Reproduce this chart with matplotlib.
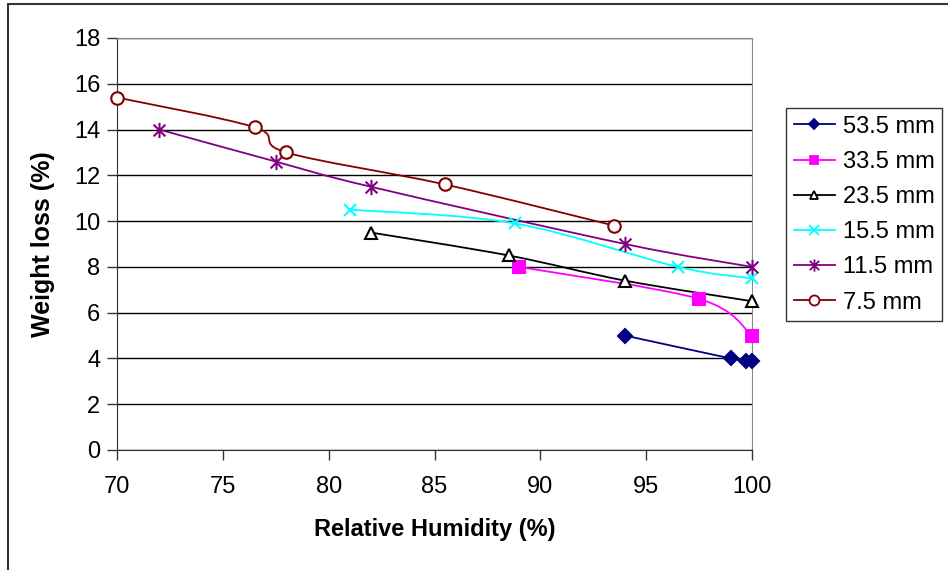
"""Weight loss vs relative humidity for several sample thicknesses"""

import matplotlib.pyplot as plt
from matplotlib.path import Path
from matplotlib.patches import PathPatch, Rectangle
from matplotlib.lines import Line2D
import numpy as np

plt.rcParams["font.family"] = ["Liberation Sans", "DejaVu Sans"]

# data
labels = ["53.5 mm", "33.5 mm", "23.5 mm", "15.5 mm", "11.5 mm", "7.5 mm"]
rh_535 = [94, 99, 99.7, 100]
wl_535 = [5.0, 4.0, 3.9, 3.9]
rh_335 = [89, 97.5, 100]
wl_335 = [8.0, 6.6, 5.0]
rh_235 = [82, 88.5, 94, 100]
wl_235 = [9.5, 8.5, 7.4, 6.5]
rh_155 = [81, 88.8, 96.5, 100]
wl_155 = [10.5, 9.9, 8.0, 7.5]
rh_115 = [72, 77.5, 82, 94, 100]
wl_115 = [14.0, 12.6, 11.5, 9.0, 8.0]
rh_75 = [70, 76.5, 78, 85.5, 93.5]
wl_75 = [15.4, 14.1, 13.0, 11.6, 9.8]

series_x = [rh_535, rh_335, rh_235, rh_155, rh_115, rh_75]
series_y = [wl_535, wl_335, wl_235, wl_155, wl_115, wl_75]

colors = ["#000080", "#FF00FF", "#000000", "#00FFFF", "#800080", "#800000"]

# excel style asterisk: an x plus a vertical bar
ast = Path(
    [(-1, -1), (1, 1), (-1, 1), (1, -1), (0, -1.3), (0, 1.3)],
    [Path.MOVETO, Path.LINETO, Path.MOVETO, Path.LINETO, Path.MOVETO, Path.LINETO],
)
markers = ["D", "s", "^", "x", ast, "o"]
msizes = [7, 8, 8, 9, 11, 9]
mfaces = ["#000080", "#FF00FF", "white", "#00FFFF", "#800080", "white"]


def smooth_path(xs, ys):
    """Bezier path through the points, like Excel's smoothed lines"""
    p = np.column_stack([xs, ys]).astype(float)
    n = len(p)
    verts = [p[0]]
    codes = [Path.MOVETO]
    for i in range(n - 1):
        p0 = p[i - 1] if i > 0 else p[i]
        p3 = p[i + 2] if i + 2 < n else p[i + 1]
        c1 = p[i] + (p[i + 1] - p0) / 6.0
        c2 = p[i + 1] - (p3 - p[i]) / 6.0
        verts += [c1, c2, p[i + 1]]
        codes += [Path.CURVE4] * 3
    return Path(verts, codes)


fig = plt.figure(figsize=(9.48, 5.7), dpi=100)
ax = fig.add_axes([117 / 948, 120 / 570, 635 / 948, 412 / 570])

for xs, ys, c, m, ms, mf in zip(series_x, series_y, colors, markers, msizes, mfaces):
    ax.add_patch(PathPatch(smooth_path(xs, ys), fill=False, edgecolor=c, lw=1.3, zorder=3))
    ax.plot(xs, ys, ls="none", marker=m, ms=ms, mfc=mf, mec=c, mew=1.5, zorder=4, clip_on=False)

ax.set_xlim(70, 100)
ax.set_ylim(0, 18)
ax.set_xticks(np.arange(70, 101, 5))
ax.set_yticks(np.arange(0, 19, 2))
ax.yaxis.grid(True, color="black", lw=1)
ax.set_axisbelow(True)
ax.tick_params(direction="out", length=7, width=1, colors="#333333", labelsize=17, labelcolor="black")
ax.tick_params(axis="x", pad=12)
ax.tick_params(axis="y", pad=5)
for s in ["top", "right"]:
    ax.spines[s].set_color("#888888")
for s in ["left", "bottom"]:
    ax.spines[s].set_color("#333333")

ax.set_xlabel("Relative Humidity (%)", fontsize=17, fontweight="bold", labelpad=14)
ax.set_ylabel("Weight loss (%)", fontsize=18, fontweight="bold", labelpad=14)

handles = [
    Line2D([], [], color=c, lw=1.3, marker=m, ms=ms * 0.8, mfc=mf, mec=c, mew=1.3)
    for c, m, ms, mf in zip(colors, markers, msizes, mfaces)
]
leg = fig.legend(
    handles, labels, loc="upper left", bbox_to_anchor=(786 / 948, 1 - 108 / 570),
    fontsize=17, frameon=True, fancybox=False, edgecolor="black", borderaxespad=0,
    handlelength=1.75, handletextpad=0.35, labelspacing=0.56, borderpad=0.32,
)
leg.get_frame().set_linewidth(1)

# outer chart border (cut off at right and bottom)
fig.add_artist(Rectangle((8 / 948, -0.1), 1.2, 1.1 - 4 / 570, transform=fig.transFigure,
                         fill=False, edgecolor="#333333", lw=1.5))

fig.savefig("out.png", dpi=100)
